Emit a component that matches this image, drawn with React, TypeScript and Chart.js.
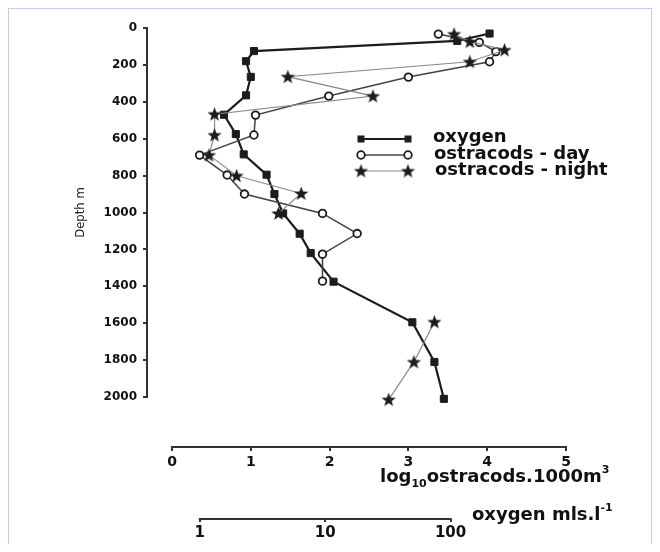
import React, { useEffect, useRef } from 'react';
import { Chart, registerables } from 'chart.js';

Chart.register(...registerables);

// ---- data ----
const oxygenDepth = [30, 70, 125, 180, 265, 365, 470, 575, 685, 795, 900, 1005, 1115, 1220, 1375, 1595, 1810, 2010];
const oxygenValue = [4.03, 3.62, 1.04, 0.94, 1.0, 0.94, 0.66, 0.81, 0.91, 1.2, 1.3, 1.41, 1.62, 1.76, 2.05, 3.05, 3.33, 3.45];

const dayDepth = [33, 78, 128, 183, 266, 369, 472, 580, 689, 797, 900, 1005, 1114, 1226, 1372];
const dayValue = [3.38, 3.9, 4.11, 4.03, 3.0, 1.99, 1.06, 1.04, 0.35, 0.7, 0.92, 1.91, 2.35, 1.91, 1.91];

const nightDepth = [33, 74, 119, 183, 264, 369, 467, 580, 689, 801, 897, 1005, null, 1593, 1810, 2014];
const nightValue = [3.58, 3.78, 4.22, 3.78, 1.47, 2.55, 0.54, 0.54, 0.47, 0.82, 1.64, 1.35, null, 3.33, 3.07, 2.75];

const depthTicks = [0, 200, 400, 600, 800, 1000, 1200, 1400, 1600, 1800, 2000];
const ostracodTicks = [0, 1, 2, 3, 4, 5];
const oxygenTicks = [1, 10, 100];
const seriesLabels = ['oxygen', 'ostracods - day', 'ostracods - night'];

const FONT = "'DejaVu Sans', 'Liberation Sans', sans-serif";
const NARROW = "'Liberation Sans Narrow', 'DejaVu Sans Condensed', 'Liberation Sans', sans-serif";
const INK = '#1c1c1c';
const AXIS = '#333333';
const OXY_LINE = '#1c1c1c';
const DAY_LINE = '#444444';
const NIGHT_LINE = '#8a8a8a';

function toPoints(values: (number | null)[], depths: (number | null)[]) {
  return values.map((v, i) => ({ x: v, y: depths[i] }));
}

function makeStar(outer: number, inner: number, color: string) {
  const c = document.createElement('canvas');
  const s = Math.ceil(outer * 2 + 2);
  c.width = s;
  c.height = s;
  const ctx = c.getContext('2d')!;
  ctx.translate(s / 2, s / 2 + 0.5);
  ctx.beginPath();
  for (let i = 0; i < 10; i++) {
    const r = i % 2 === 0 ? outer : inner;
    const a = -Math.PI / 2 + (i * Math.PI) / 5;
    ctx.lineTo(r * Math.cos(a), r * Math.sin(a));
  }
  ctx.closePath();
  ctx.fillStyle = color;
  ctx.fill();
  return c;
}

type Part = { text: string; size: number; dy: number };
function drawRich(ctx: CanvasRenderingContext2D, x: number, y: number, parts: Part[]) {
  let cx = x;
  for (const p of parts) {
    ctx.font = `bold ${p.size}px ${FONT}`;
    ctx.fillText(p.text, cx, y + p.dy);
    cx += ctx.measureText(p.text).width;
  }
}

function makeOverlay(star: HTMLCanvasElement) {
  return {
    id: 'overlay',
    afterDraw(chart: any) {
      const ctx: CanvasRenderingContext2D = chart.ctx;
      const xo = chart.scales.xo;
      ctx.save();
      // oxygen axis line (only between first and last tick)
      ctx.strokeStyle = AXIS;
      ctx.lineWidth = 2;
      ctx.beginPath();
      const yl = Math.round(xo.top);
      ctx.moveTo(xo.getPixelForValue(oxygenTicks[0]) - 1, yl);
      ctx.lineTo(xo.getPixelForValue(oxygenTicks[oxygenTicks.length - 1]) + 1, yl);
      ctx.stroke();

      // axis titles
      ctx.fillStyle = '#111';
      ctx.textBaseline = 'alphabetic';
      ctx.textAlign = 'left';
      drawRich(ctx, 372, 474, [
        { text: 'log', size: 18, dy: 0 },
        { text: '10', size: 11, dy: 5 },
        { text: 'ostracods.1000m', size: 18, dy: 0 },
        { text: '3', size: 11, dy: -9 },
      ]);
      drawRich(ctx, 464, 512, [
        { text: 'oxygen mls.l', size: 18, dy: 0 },
        { text: '-1', size: 11, dy: -9 },
      ]);

      // legend
      const rows = [
        { y: 131, ty: 134, color: OXY_LINE, width: 2.2, kind: 'rect' },
        { y: 147, ty: 151, color: DAY_LINE, width: 1.5, kind: 'circle' },
        { y: 163, ty: 167, color: NIGHT_LINE, width: 1.2, kind: 'star' },
      ];
      const x1 = 353;
      const x2 = 400;
      rows.forEach((r, i) => {
        ctx.strokeStyle = r.color;
        ctx.lineWidth = r.width;
        ctx.beginPath();
        ctx.moveTo(x1, r.y);
        ctx.lineTo(x2, r.y);
        ctx.stroke();
        [x1, x2].forEach((mx) => {
          if (r.kind === 'rect') {
            ctx.fillStyle = INK;
            ctx.fillRect(mx - 3.5, r.y - 3.5, 7, 7);
          } else if (r.kind === 'circle') {
            ctx.beginPath();
            ctx.arc(mx, r.y, 3.8, 0, Math.PI * 2);
            ctx.fillStyle = '#fff';
            ctx.fill();
            ctx.lineWidth = 1.8;
            ctx.strokeStyle = INK;
            ctx.stroke();
          } else {
            ctx.drawImage(star, mx - star.width / 2, r.y - star.height / 2);
          }
        });
        ctx.fillStyle = '#111';
        ctx.font = `bold 18px ${FONT}`;
        ctx.fillText(seriesLabels[i], 425 + i, r.ty);
      });
      ctx.restore();
    },
  };
}

const spacer = (dim: 'width' | 'height', size: number, position: string, weight: number) => ({
  type: 'linear',
  position,
  weight,
  display: true,
  grid: { display: false },
  border: { display: false },
  ticks: { display: false },
  title: { display: false },
  afterFit: (s: any) => {
    s[dim] = size;
  },
});

export default function App() {
  const ref = useRef<HTMLCanvasElement>(null);

  useEffect(() => {
    const canvas = ref.current;
    if (!canvas) return;
    const star = makeStar(7.5, 3.1, INK);

    const chart = new Chart(canvas, {
      type: 'scatter',
      data: {
        datasets: [
          {
            label: seriesLabels[0],
            data: toPoints(oxygenValue, oxygenDepth) as any,
            xAxisID: 'x',
            yAxisID: 'y',
            showLine: true,
            borderColor: OXY_LINE,
            borderWidth: 2.2,
            pointStyle: 'rect',
            pointRadius: 5,
            pointBackgroundColor: INK,
            pointBorderColor: INK,
            pointBorderWidth: 1,
            clip: false as any,
            order: 2,
          },
          {
            label: seriesLabels[1],
            data: toPoints(dayValue, dayDepth) as any,
            xAxisID: 'x',
            yAxisID: 'y',
            showLine: true,
            borderColor: DAY_LINE,
            borderWidth: 1.5,
            pointStyle: 'circle',
            pointRadius: 3.8,
            pointBackgroundColor: '#ffffff',
            pointBorderColor: INK,
            pointBorderWidth: 1.8,
            clip: false as any,
            order: 1,
          },
          {
            label: seriesLabels[2],
            data: toPoints(nightValue, nightDepth) as any,
            xAxisID: 'x',
            yAxisID: 'y',
            showLine: true,
            spanGaps: false,
            borderColor: NIGHT_LINE,
            borderWidth: 1.2,
            pointStyle: star as any,
            pointRadius: 7,
            clip: false as any,
            order: 0,
          },
        ],
      },
      options: {
        responsive: false,
        animation: false,
        layout: { padding: { top: 20, right: 86, left: 0, bottom: 0 } },
        plugins: {
          legend: { display: false },
          tooltip: { enabled: false },
        },
        scales: {
          x: {
            type: 'linear',
            position: 'bottom',
            weight: 1,
            min: 0,
            max: 5,
            afterBuildTicks: (s: any) => {
              s.ticks = ostracodTicks.map((v) => ({ value: v }));
            },
            afterFit: (s: any) => {
              s.height = 72;
            },
            grid: { display: true, drawOnChartArea: false, drawTicks: true, tickLength: 4, color: AXIS, lineWidth: 2 },
            border: { display: true, color: AXIS, width: 2 },
            ticks: {
              font: { family: FONT, weight: 'bold', size: 14 },
              color: '#111',
              padding: 3,
              maxRotation: 0,
              callback: (v: any) => String(v),
            },
          },
          xSpacer: spacer('height', 50, 'bottom', 0) as any,
          xo: {
            type: 'logarithmic',
            position: 'bottom',
            weight: 2,
            min: 0.622,
            max: 833,
            afterBuildTicks: (s: any) => {
              s.ticks = oxygenTicks.map((v) => ({ value: v }));
            },
            afterFit: (s: any) => {
              s.height = 25;
            },
            grid: { display: true, drawOnChartArea: false, drawTicks: true, tickLength: 3, color: AXIS, lineWidth: 2 },
            border: { display: false },
            ticks: {
              font: { family: FONT, weight: 'bold', size: 15 },
              color: '#111',
              padding: 2,
              maxRotation: 0,
              callback: (v: any) => String(v),
            },
          },
          y: {
            type: 'linear',
            position: 'left',
            weight: 1,
            reverse: true,
            min: 0,
            max: 2000,
            afterBuildTicks: (s: any) => {
              s.ticks = depthTicks.map((v) => ({ value: v }));
            },
            afterFit: (s: any) => {
              s.width = 139;
            },
            grid: { display: true, drawOnChartArea: false, drawTicks: true, tickLength: 4, color: AXIS, lineWidth: 2 },
            border: { display: true, color: AXIS, width: 2 },
            ticks: {
              font: { family: FONT, weight: 'bold', size: 12 },
              color: '#111',
              padding: 6,
              callback: (v: any) => String(v),
            },
            title: {
              display: true,
              text: 'Depth m',
              color: '#222',
              font: { family: NARROW, size: 13 },
              padding: { top: 65, bottom: 0 },
            },
          },
          ySpacer: spacer('width', 25, 'left', 0) as any,
        },
      } as any,
      plugins: [makeOverlay(star) as any],
    });

    return () => chart.destroy();
  }, []);

  return (
    <div
      style={{
        position: 'relative',
        width: 644,
        height: 536,
        boxSizing: 'border-box',
        borderLeft: '1px solid #c8c8ee',
        borderTop: '1px solid #c8c8ee',
        borderRight: '1px solid #c8c8ee',
        overflow: 'hidden',
      }}
    >
      <canvas
        ref={ref}
        width={644}
        height={536}
        style={{ position: 'absolute', left: -1, top: -1, width: 644, height: 536 }}
      />
    </div>
  );
}
